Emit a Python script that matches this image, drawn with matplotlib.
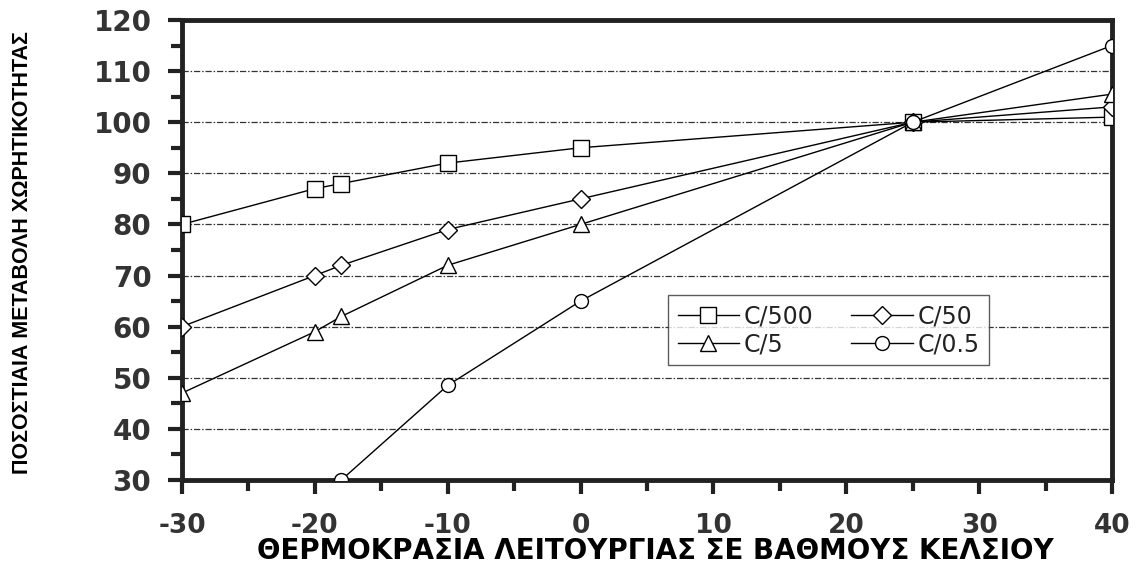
import matplotlib.pyplot as plt
from matplotlib.ticker import MultipleLocator

plt.rcParams['font.family'] = ['DejaVu Sans']
plt.rcParams['axes.unicode_minus'] = False

# Θερμοκρασίες (°C) και ποσοστιαία χωρητικότητα ανά ρυθμό εκφόρτισης
temp_c500 = [-30, -20, -18, -10, 0, 25, 40]
cap_c500 = [80, 87, 88, 92, 95, 100, 101]

temp_c50 = [-30, -20, -18, -10, 0, 25, 40]
cap_c50 = [60, 70, 72, 79, 85, 100, 103]

temp_c5 = [-30, -20, -18, -10, 0, 25, 40]
cap_c5 = [47, 59, 62, 72, 80, 100, 105.5]

temp_c05 = [-18, -10, 0, 25, 40]
cap_c05 = [30, 48.5, 65, 100, 115]

x_ticks = [-30, -20, -10, 0, 10, 20, 30, 40]
y_ticks = [30, 40, 50, 60, 70, 80, 90, 100, 110, 120]

fig = plt.figure(figsize=(11.4, 5.68), dpi=100)
ax = fig.add_axes([0.1596, 0.155, 0.8158, 0.8098])

style = dict(color='black', lw=1.0, mfc='white', mec='black', mew=1.0)
l500, = ax.plot(temp_c500, cap_c500, marker='s', ms=12, label='C/500', **style)
l50, = ax.plot(temp_c50, cap_c50, marker='D', ms=9, label='C/50', **style)
l5, = ax.plot(temp_c5, cap_c5, marker='^', ms=11, label='C/5', **style)
l05, = ax.plot(temp_c05, cap_c05, marker='o', ms=10, label='C/0.5', **style)
for ln in (l500, l50, l5, l05):
    ln.set_zorder(3)

ax.set_xlim(-30, 40)
ax.set_ylim(30, 120)
ax.set_xticks(x_ticks)
ax.set_yticks(y_ticks)
ax.xaxis.set_minor_locator(MultipleLocator(5))
ax.yaxis.set_minor_locator(MultipleLocator(5))

# οριζόντιες γραμμές πλέγματος (χωρίς 30 και 120)
for yv in y_ticks[1:-1]:
    ax.axhline(yv, color='#333333', lw=0.9, ls=(0, (5, 1.5, 1.2, 1.5)), zorder=1)

for s in ax.spines.values():
    s.set_linewidth(3.5)
    s.set_color('#222222')

ax.tick_params(axis='both', which='major', direction='out', length=10, width=3,
               color='#222222')
ax.tick_params(axis='both', which='minor', direction='out', length=8, width=3,
               color='#222222')
ax.tick_params(axis='y', labelsize=20, pad=12)
ax.tick_params(axis='x', labelsize=19, pad=14)
for lab in ax.get_yticklabels() + ax.get_xticklabels():
    lab.set_fontweight('bold')
    lab.set_color('#333333')

fig.text(0.575, 0.03, 'ΘΕΡΜΟΚΡΑΣΙΑ ΛΕΙΤΟΥΡΓΙΑΣ ΣΕ ΒΑΘΜΟΥΣ ΚΕΛΣΙΟΥ',
         fontsize=20, fontweight='bold', ha='center', va='center')
fig.text(0.02, 0.555, 'ΠΟΣΟΣΤΙΑΙΑ ΜΕΤΑΒΟΛΗ ΧΩΡΗΤΙΚΟΤΗΤΑΣ', rotation=90,
         fontsize=15.5, fontweight='bold', family='Liberation Sans',
         ha='center', va='center')

leg = ax.legend(handles=[l500, l5, l50, l05], ncol=2, loc='upper left',
                bbox_to_anchor=(0.523, 0.402), borderaxespad=0, fontsize=17,
                frameon=True, fancybox=False, edgecolor='#333333',
                handlelength=2.6, columnspacing=1.6, borderpad=0.4,
                labelspacing=0.15, handletextpad=0.2)
leg.get_frame().set_linewidth(1.0)
for t in leg.get_texts():
    t.set_color('#222222')

fig.savefig('out.png', dpi=100)
